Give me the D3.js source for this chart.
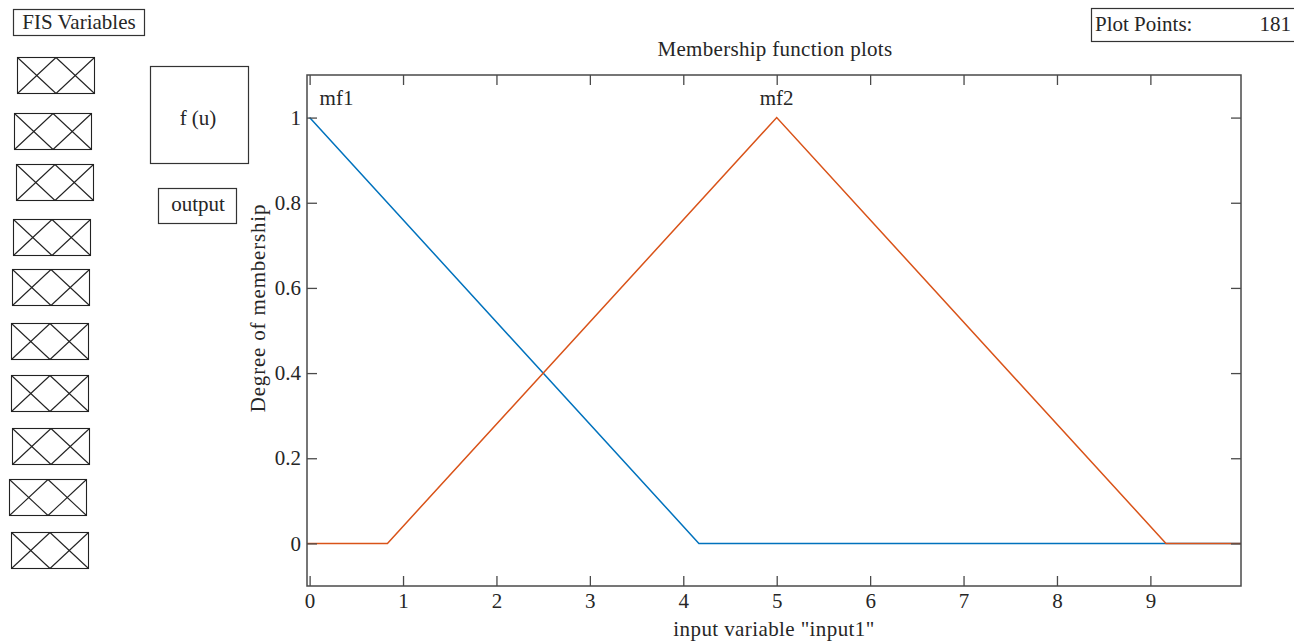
<!DOCTYPE html>
<html>
<head>
<meta charset="utf-8">
<script src="https://cdn.jsdelivr.net/npm/d3@7"></script>
<style>
  html, body { margin: 0; padding: 0; background: #ffffff; }
  svg { display: block; }
  text { font-family: "Liberation Serif", "Times New Roman", serif; fill: #262626; }
</style>
</head>
<body>
<svg id="chart" width="1294" height="642"></svg>
<script>
// ---- data ----
const xTicks = [0, 1, 2, 3, 4, 5, 6, 7, 8, 9];
const yTicks = [0, 0.2, 0.4, 0.6, 0.8, 1];
const yTickLabels = ["0", "0.2", "0.4", "0.6", "0.8", "1"];
const xDomain = [-0.028, 9.97];
const yDomain = [-0.1, 1.1];
const mf1X = [0, 4.167, 9.97];
const mf1Y = [1, 0, 0];
const mf2X = [-0.028, 0.833, 5, 9.167, 9.97];
const mf2Y = [0, 0, 1, 0, 0];
const mfLabels = ["mf1", "mf2"];
const mfLabelX = [0, 5];
const plotPoints = 181;
const varBoxCount = 10;

// ---- layout ----
const frame = { left: 307, right: 1241, top: 75, bottom: 586 };
const colors = ["#0072BD", "#D95319"];
const axisColor = "#4a4a4a";
const fs = 21;

const svg = d3.select("#chart");

const x = d3.scaleLinear().domain(xDomain).range([frame.left, frame.right]);
const y = d3.scaleLinear().domain(yDomain).range([frame.bottom, frame.top]);

// left panel
svg.append("rect").attr("x", 13.5).attr("y", 9.5).attr("width", 131).attr("height", 26)
  .attr("fill", "none").attr("stroke", "#333").attr("stroke-width", 1.2);
svg.append("text").attr("x", 79).attr("y", 29).attr("text-anchor", "middle")
  .attr("font-size", fs).text("FIS Variables");

const boxPos = [
  [17, 57], [14, 113], [16, 164], [13, 219], [12, 269],
  [11, 323], [11, 375], [12, 428], [9, 479], [11, 532]
];
const boxW = 77, boxH = 36;
boxPos.slice(0, varBoxCount).forEach(([bx, by]) => {
  const g = svg.append("g").attr("stroke", "#222").attr("stroke-width", 1.1).attr("fill", "none");
  g.append("rect").attr("x", bx + 0.5).attr("y", by + 0.5).attr("width", boxW).attr("height", boxH);
  const x0 = bx + 0.5, x1 = bx + 0.5 + boxW, xm = (x0 + x1) / 2, y0 = by + 0.5, y1 = by + 0.5 + boxH;
  const segs = [[x0, y0, xm, y1], [x0, y1, xm, y0], [xm, y0, x1, y1], [xm, y1, x1, y0]];
  segs.forEach(s => g.append("line").attr("x1", s[0]).attr("y1", s[1]).attr("x2", s[2]).attr("y2", s[3]));
});

svg.append("rect").attr("x", 150.5).attr("y", 66.5).attr("width", 98).attr("height", 97)
  .attr("fill", "none").attr("stroke", "#333").attr("stroke-width", 1.2);
svg.append("text").attr("x", 198).attr("y", 125).attr("text-anchor", "middle")
  .attr("font-size", fs).text("f (u)");

svg.append("rect").attr("x", 158.5).attr("y", 188.5).attr("width", 78).attr("height", 35)
  .attr("fill", "none").attr("stroke", "#333").attr("stroke-width", 1.2);
svg.append("text").attr("x", 198).attr("y", 211).attr("text-anchor", "middle")
  .attr("font-size", fs).text("output");

// plot points box
svg.append("rect").attr("x", 1091.5).attr("y", 8.5).attr("width", 220).attr("height", 33)
  .attr("fill", "none").attr("stroke", "#333").attr("stroke-width", 1.2);
svg.append("text").attr("x", 1095).attr("y", 31).attr("font-size", fs).text("Plot Points:");
svg.append("text").attr("x", 1291).attr("y", 31).attr("text-anchor", "end")
  .attr("font-size", fs).text(String(plotPoints));

// title
svg.append("text").attr("x", (frame.left + frame.right) / 2 + 1).attr("y", 56)
  .attr("text-anchor", "middle").attr("font-size", fs).attr("letter-spacing", 0.3)
  .text("Membership function plots");

// clip
svg.append("defs").append("clipPath").attr("id", "clip").append("rect")
  .attr("x", frame.left).attr("y", frame.top)
  .attr("width", frame.right - frame.left).attr("height", frame.bottom - frame.top);

// lines
const line = d3.line().x(d => x(d[0])).y(d => y(d[1]));
const series = [d3.zip(mf1X, mf1Y), d3.zip(mf2X, mf2Y)];
series.forEach((s, i) => {
  svg.append("path").datum(s).attr("d", line).attr("fill", "none")
    .attr("stroke", colors[i]).attr("stroke-width", 1.5).attr("clip-path", "url(#clip)");
});

// axes (MATLAB box style, ticks inside)
const tickLen = 10;
const xAxisB = d3.axisBottom(x).tickValues(xTicks).tickSize(-tickLen).tickPadding(7).tickFormat(d3.format("d"));
const xAxisT = d3.axisTop(x).tickValues(xTicks).tickSize(-tickLen).tickFormat("");
const yAxisL = d3.axisLeft(y).tickValues(yTicks).tickSize(-tickLen).tickPadding(6)
  .tickFormat((d, i) => yTickLabels[i]);
const yAxisR = d3.axisRight(y).tickValues(yTicks).tickSize(-tickLen).tickFormat("");

function styleAxis(g) {
  g.select(".domain").remove();
  g.selectAll(".tick line").attr("stroke", axisColor).attr("stroke-width", 1.3);
  g.selectAll(".tick text").attr("font-family", "Liberation Serif, serif").attr("font-size", fs).attr("fill", "#333");
}
svg.append("g").attr("transform", `translate(0,${frame.bottom})`).call(xAxisB).call(styleAxis);
svg.append("g").attr("transform", `translate(0,${frame.top})`).call(xAxisT).call(styleAxis);
svg.append("g").attr("transform", `translate(${frame.left},0)`).call(yAxisL).call(styleAxis);
svg.append("g").attr("transform", `translate(${frame.right},0)`).call(yAxisR).call(styleAxis);

svg.append("rect").attr("x", frame.left).attr("y", frame.top)
  .attr("width", frame.right - frame.left).attr("height", frame.bottom - frame.top)
  .attr("fill", "none").attr("stroke", axisColor).attr("stroke-width", 1.5);

// mf labels
mfLabels.forEach((lab, i) => {
  const px = i === 0 ? x(mfLabelX[i]) + 10 : x(mfLabelX[i]);
  svg.append("text").attr("x", px).attr("y", 105)
    .attr("text-anchor", i === 0 ? "start" : "middle").attr("font-size", fs).text(lab);
});

// axis labels
svg.append("text").attr("x", (frame.left + frame.right) / 2).attr("y", 636)
  .attr("text-anchor", "middle").attr("font-size", fs).attr("letter-spacing", 0.4)
  .text('input variable "input1"');
svg.append("text").attr("transform", `translate(265,308) rotate(-90)`)
  .attr("text-anchor", "middle").attr("font-size", fs).attr("letter-spacing", 0.8)
  .text("Degree of membership");
</script>
</body>
</html>
